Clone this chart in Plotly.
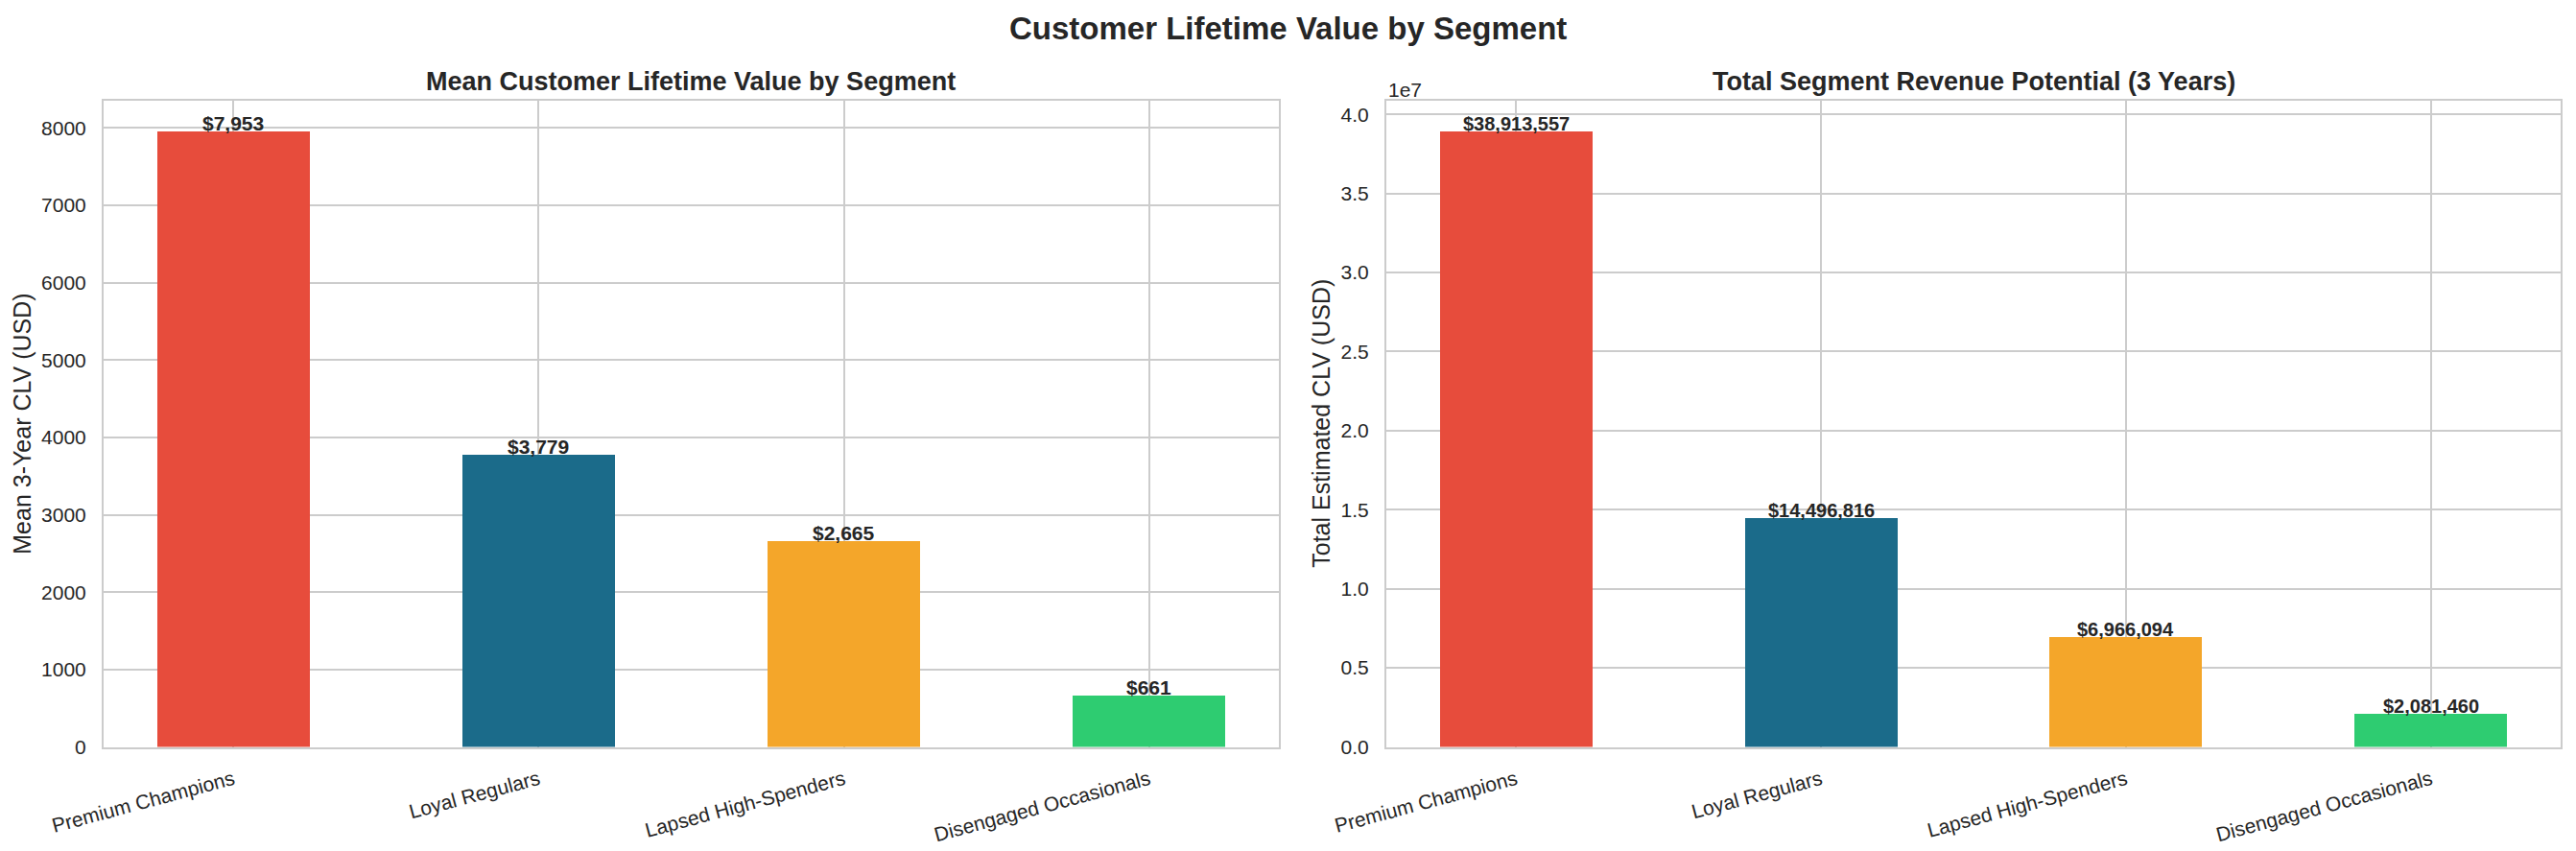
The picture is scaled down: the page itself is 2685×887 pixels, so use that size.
import plotly.graph_objects as go

segments = ["Premium Champions", "Loyal Regulars", "Lapsed High-Spenders", "Disengaged Occasionals"]
mean_clv = [7953, 3779, 2665, 661]
total_clv = [38913557, 14496816, 6966094, 2081460]
colors = ["#e74c3c", "#1b6b8a", "#f4a62a", "#2ecc71"]
right_ticks = [0, 5e6, 1e7, 1.5e7, 2e7, 2.5e7, 3e7, 3.5e7, 4e7]

W, H = 2685, 887
FONT = "Liberation Sans, Arial, sans-serif"
TXT = "#262626"
GRID = "#cccccc"

def px_x(p):
    return p / W

def px_y(p):
    return 1 - p / H

xd1 = [px_x(108), px_x(1333)]
xd2 = [px_x(1445), px_x(2669)]
yd = [px_y(778.5), px_y(105)]

fig = go.Figure()
fig.add_trace(go.Bar(x=segments, y=mean_clv, marker=dict(color=colors, line=dict(width=0)),
                     width=0.5, xaxis="x", yaxis="y", showlegend=False))
fig.add_trace(go.Bar(x=segments, y=total_clv, marker=dict(color=colors, line=dict(width=0)),
                     width=0.5, xaxis="x2", yaxis="y2", showlegend=False))

ann = []
for s, v in zip(segments, mean_clv):
    ann.append(dict(x=s, y=v, xref="x", yref="y", text=f"<b>${v:,}</b>", showarrow=False,
                    yanchor="bottom", yshift=-5, font=dict(size=21, color=TXT, family=FONT)))
for s, v in zip(segments, total_clv):
    ann.append(dict(x=s, y=v, xref="x2", yref="y2", text=f"<b>${v:,}</b>", showarrow=False,
                    yanchor="bottom", yshift=-5, font=dict(size=20, color=TXT, family=FONT)))

ann.append(dict(x=0.5, y=px_y(29), xref="paper", yref="paper", text="<b>Customer Lifetime Value by Segment</b>",
                showarrow=False, xanchor="center", yanchor="middle", font=dict(size=33, color=TXT, family=FONT)))
ann.append(dict(x=(xd1[0] + xd1[1]) / 2, y=px_y(85), xref="paper", yref="paper",
                text="<b>Mean Customer Lifetime Value by Segment</b>", showarrow=False,
                xanchor="center", yanchor="middle", font=dict(size=27, color=TXT, family=FONT)))
ann.append(dict(x=(xd2[0] + xd2[1]) / 2, y=px_y(85), xref="paper", yref="paper",
                text="<b>Total Segment Revenue Potential (3 Years)</b>", showarrow=False,
                xanchor="center", yanchor="middle", font=dict(size=27, color=TXT, family=FONT)))
ann.append(dict(x=px_x(23), y=(yd[0] + yd[1]) / 2, xref="paper", yref="paper",
                text="Mean 3-Year CLV (USD)", textangle=-90, showarrow=False,
                xanchor="center", yanchor="middle", font=dict(size=25, color=TXT, family=FONT)))
ann.append(dict(x=px_x(1377), y=(yd[0] + yd[1]) / 2, xref="paper", yref="paper",
                text="Total Estimated CLV (USD)", textangle=-90, showarrow=False,
                xanchor="center", yanchor="middle", font=dict(size=25, color=TXT, family=FONT)))
ann.append(dict(x=px_x(1445), y=px_y(93), xref="paper", yref="paper", text="1e7", showarrow=False,
                xanchor="left", yanchor="middle", font=dict(size=21, color=TXT, family=FONT)))

axis_common = dict(showline=True, linecolor=GRID, linewidth=2, mirror=True, automargin=False,
                   showgrid=True, gridcolor=GRID, gridwidth=1.7, zeroline=False,
                   tickfont=dict(size=21, color=TXT, family=FONT), ticks="", ticklabelstandoff=12)

fig.update_layout(
    width=W, height=H, autosize=False,
    margin=dict(l=0, r=0, t=0, b=0, autoexpand=False),
    paper_bgcolor="white", plot_bgcolor="white",
    font=dict(family=FONT, color=TXT),
    bargap=0,
    xaxis=dict(domain=xd1, anchor="y", range=[-0.425, 3.425], tickangle=-15, **axis_common),
    yaxis=dict(domain=yd, anchor="x", range=[0, max(mean_clv) * 1.05], dtick=1000, **axis_common),
    xaxis2=dict(domain=xd2, anchor="y2", range=[-0.425, 3.425], tickangle=-15, **axis_common),
    yaxis2=dict(domain=yd, anchor="x2", range=[0, max(total_clv) * 1.05],
                tickvals=right_ticks, ticktext=[f"{t/1e7:.1f}" for t in right_ticks], **axis_common),
    annotations=ann,
)

fig.write_html("out.html")
